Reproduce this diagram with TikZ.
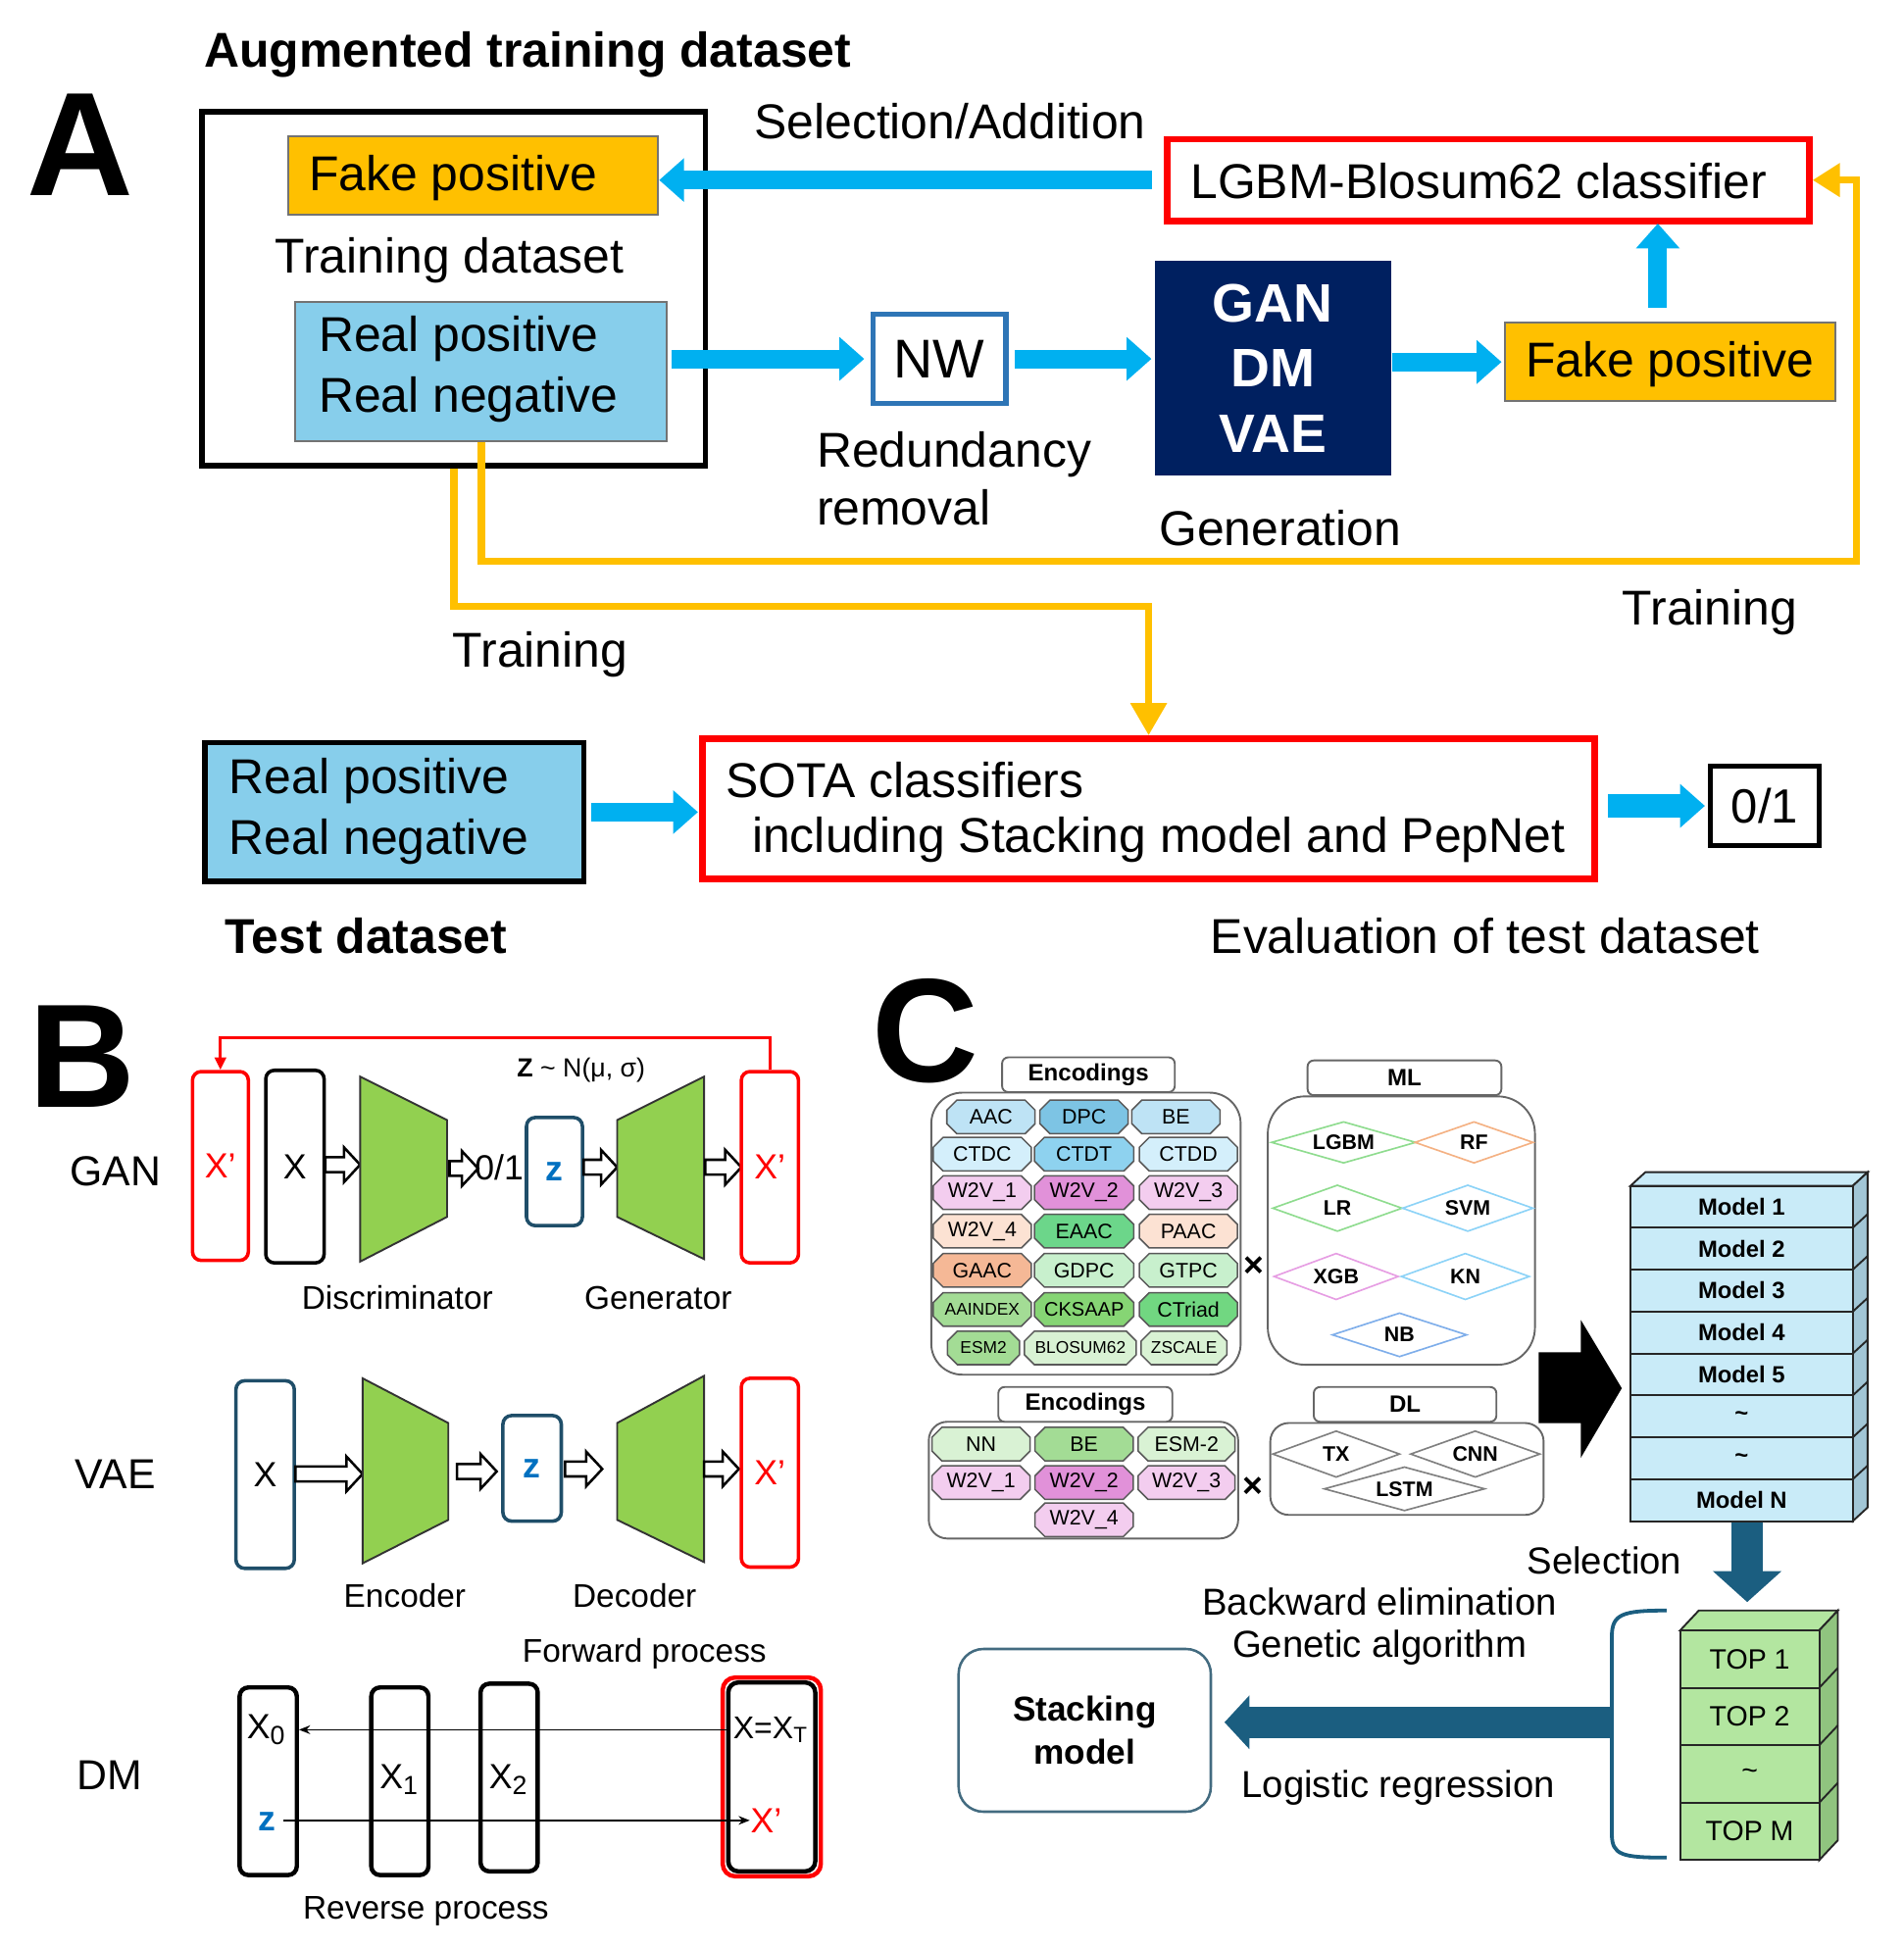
\documentclass[tikz,border=0pt]{standalone}
\usepackage{fontspec}
\setmainfont{Liberation Sans}
\usetikzlibrary{arrows.meta,shapes.misc,shapes.geometric,calc}
\definecolor{cyanA}{HTML}{00B0F0}
\definecolor{orA}{HTML}{FFC000}
\definecolor{lbA}{HTML}{87CEEB}
\definecolor{navyA}{HTML}{002060}
\definecolor{nwblue}{HTML}{2E75B6}
\definecolor{grnT}{HTML}{92D050}
\definecolor{tealB}{HTML}{1F4E69}
\definecolor{zblue}{HTML}{0070C0}
\definecolor{tealC}{HTML}{1B5E80}
\definecolor{mcol}{HTML}{C9EBF8}
\definecolor{mside}{HTML}{A2C6D6}
\definecolor{tcol}{HTML}{B3E6A0}
\definecolor{tside}{HTML}{90C47F}
\definecolor{cA}{HTML}{BEE3F5}
\definecolor{cB}{HTML}{7DC4E4}
\definecolor{cC}{HTML}{D4EFFB}
\definecolor{cD}{HTML}{8ED2EF}
\definecolor{cE}{HTML}{F3CDEF}
\definecolor{cF}{HTML}{E191D9}
\definecolor{cG}{HTML}{FCE2D3}
\definecolor{cH}{HTML}{6CD68A}
\definecolor{cI}{HTML}{F5B896}
\definecolor{cJ}{HTML}{C8F0CD}
\definecolor{cK}{HTML}{A3DC95}
\definecolor{cL}{HTML}{86D574}
\definecolor{cM}{HTML}{71D781}
\definecolor{cN}{HTML}{D9F2D4}
\definecolor{dG}{HTML}{8FDC8F}
\definecolor{dO}{HTML}{F4B183}
\definecolor{dB}{HTML}{8DD3F7}
\definecolor{dP}{HTML}{E69EE3}
\definecolor{dN}{HTML}{7FAEEA}
\newcommand\fsz[2]{\fontsize{#1pt}{#2pt}\selectfont}
\newcommand\harr[3]{\draw[harrowst] (#1,#3-6) -- (#2-13,#3-6) -- (#2-13,#3-14) -- (#2,#3) -- (#2-13,#3+14) -- (#2-13,#3+6) -- (#1,#3+6) -- cycle;}
\newcommand\dmd[6]{\draw[#5, line width=0.013cm] (#1-#3/2,#2) -- (#1,#2-#4/2) -- (#1+#3/2,#2) -- (#1,#2+#4/2) -- cycle;
  \node[inner sep=0pt, font=\bfseries\fsz{4.8}{5}] at (#1,#2) {#6};}
\begin{document}
\begin{tikzpicture}[x=0.01cm,y=-0.01cm,
  T/.style={inner sep=0pt, font=\fsz{11.2}{13.9}, align=left},
  TB/.style={inner sep=0pt, font=\bfseries\fsz{11.2}{13.9}},
  big/.style={inner sep=0pt, font=\bfseries\fsz{33.8}{40}},
  blab/.style={inner sep=0pt, font=\fsz{9.6}{11}},
  bcap/.style={inner sep=0pt, font=\fsz{7.5}{9}},
  blet/.style={inner sep=0pt, font=\fsz{8}{9}},
  ctxt/.style={inner sep=0pt, font=\fsz{8.6}{10}},
  boxst/.style={rectangle, inner sep=0pt},
  cyarr/.style={line width=0.15cm, cyanA, -{Triangle[length=0.2cm,width=0.34cm]}},
  yline/.style={line width=0.06cm, orA},
  harrowst/.style={draw=black, line width=0.02cm, fill=white},
  trap/.style={draw=black!80, line width=0.015cm, fill=grnT},
  rbox/.style={rectangle, rounded corners=0.07cm, inner sep=0pt, line width=0.028cm},
  cellst/.style={chamfered rectangle, chamfered rectangle xsep=0.04cm, chamfered rectangle ysep=0.04cm, draw=gray!70!black, line width=0.012cm, minimum height=0.27cm, inner sep=0pt, font=\fsz{4.8}{5}},
  smallc/.style={font=\fsz{3.9}{4}},
  hdr/.style={rectangle, rounded corners=0.05cm, draw=gray!80!black, line width=0.015cm, fill=white, minimum height=0.28cm, inner sep=0pt, font=\bfseries\fsz{5.4}{6}},
  cont/.style={rectangle, draw=gray!80!black, line width=0.015cm, inner sep=0pt},
  mrow/.style={rectangle, draw=black!85, line width=0.015cm, fill=mcol, minimum width=1.79cm, minimum height=0.3375cm, inner sep=0pt, font=\bfseries\fsz{5.35}{6}},
  trow/.style={rectangle, draw=black!85, line width=0.015cm, fill=tcol, minimum width=1.12cm, minimum height=0.4625cm, inner sep=0pt, font=\fsz{6.4}{7}},
  dmarr/.style={black, line width=0.013cm, -{Stealth[length=0.09cm,width=0.07cm]}}
]
\useasboundingbox (0,0) rectangle (1533,1568);

% ================= Part A =================
\node[big] (labA) at (65,117) {A};
\node[TB] (augt) at (425,44) {Augmented training dataset};
\node[boxst, draw=black, line width=0.045cm, minimum width=4.05cm, minimum height=2.85cm] (outer) at (365.5,232.5) {};
\node[boxst, draw=black!55, line width=0.015cm, fill=orA, minimum width=2.98cm, minimum height=0.63cm] (fp1) at (381,141.5) {};
\node[T, anchor=west] (fp1t) at (248,143) {Fake positive};
\node[T] (trd) at (362,210) {Training dataset};
\node[boxst, draw=black!55, line width=0.015cm, fill=lbA, minimum width=2.99cm, minimum height=1.12cm] (rp1) at (387.5,299) {};
\node[T, anchor=west] (rp1t) at (256,297.5) {Real positive\\Real negative};

\node[boxst, draw=nwblue, line width=0.04cm, fill=white, minimum width=1.07cm, minimum height=0.72cm, font=\fsz{12.5}{14}] (nw) at (756.5,289) {NW};
\node[inner sep=0pt, font=\fsz{11.2}{13.4}, align=left, anchor=west] (red) at (657,385.5) {Redundancy\\removal};

\node[boxst, fill=navyA, text=white, minimum width=1.9cm, minimum height=1.73cm, font=\bfseries\fsz{12.4}{14.9}, align=center] (gen) at (1025,296.5) {GAN\\DM\\VAE};
\node[T] (gent) at (1031,425) {Generation};

\node[boxst, draw=black!55, line width=0.015cm, fill=orA, minimum width=2.66cm, minimum height=0.63cm] (fp2) at (1345,291.5) {};
\node[T, anchor=west] (fp2t) at (1228,293) {Fake positive};

\node[boxst, draw=red, line width=0.05cm, fill=white, minimum width=5.17cm, minimum height=0.66cm] (lgbm) at (1198.5,145) {};
\node[T, anchor=west] (lgbmt) at (958,146) {LGBM-Blosum62 classifier};
\node[T] (seladd) at (765,98) {Selection/Addition};

% cyan arrows
\draw[cyarr, shorten <=0.1cm] (lgbm.west) -- (fp1.east |- lgbm.west);
\draw[cyarr, shorten <=0.03cm, shorten >=0.05cm] (rp1.east |- nw.west) -- (nw.west);
\draw[cyarr, shorten <=0.05cm, shorten >=0.02cm] (nw.east) -- (nw.east -| gen.west);
\draw[cyarr, shorten >=0.02cm] (gen.east |- fp2.west) -- (fp2.west);
\draw[cyarr, shorten <=0.12cm, shorten >=0.02cm] (1335,260) -- (1335,178);

% test
\node[boxst, draw=black, line width=0.045cm, fill=lbA, minimum width=3.05cm, minimum height=1.12cm] (test) at (317.5,654) {};
\node[T, anchor=west] (testt) at (184,653.5) {Real positive\\Real negative};
\node[boxst, draw=red, line width=0.055cm, fill=white, minimum width=7.18cm, minimum height=1.13cm] (sota) at (925,651.5) {};
\node[T, anchor=west] (sota1) at (584,628) {SOTA classifiers};
\node[T, anchor=west] (sota2) at (605,676) {including Stacking model and PepNet};
\node[boxst, draw=black, line width=0.04cm, fill=white, minimum width=0.88cm, minimum height=0.64cm, font=\fsz{11}{13}] (out01) at (1421,649) {0/1};
\draw[cyarr, shorten <=0.04cm, shorten >=0.01cm] (test.east) -- (test.east -| sota.west);
\draw[cyarr, line width=0.19cm, shorten <=0.08cm, shorten >=0.02cm] (sota.east |- out01.west) -- (out01.west);
\node[TB] (testds) at (295,754) {Test dataset};
\node[T] (evalt) at (1196,754) {Evaluation of test dataset};

% yellow lines
\draw[yline, -{Triangle[length=0.22cm,width=0.26cm]}] (rp1.south) |- (1495,452) |- (lgbm.east);
\draw[yline, -{Triangle[length=0.26cm,width=0.28cm]}] (outer.south) -- ++(0,111) -| (sota.north);
\node[T] (tr1) at (435,527) {Training};
\node[T] (tr2) at (1377,493) {Training};

% ================= Part B =================
\node[big] (labB) at (66,851) {B};
% GAN
\node[blab] at (93,943) {GAN};
\node[rbox, draw=red, minimum width=0.45cm, minimum height=1.52cm] (xpl) at (177.5,939) {};
\node[blet, text=red] at (xpl) {X'};
\node[rbox, draw=black, minimum width=0.47cm, minimum height=1.55cm] (xg) at (237.5,939.5) {};
\node[blet] at (xg) {X};
\harr{262}{290}{938}
\draw[trap] (290,867) -- (360,902) -- (360,980) -- (290,1016) -- cycle;
\harr{362}{385}{941}
\node[blet] (o1) at (402,940) {0/1};
\node[rbox, draw=tealB, minimum width=0.45cm, minimum height=0.87cm] (zg) at (446.5,943.5) {};
\node[blet, text=zblue, font=\bfseries\fsz{8}{9}] at (zg) {z};
\harr{470}{497}{940}
\draw[trap] (497,902) -- (567,867) -- (567,1014) -- (497,980) -- cycle;
\harr{568}{597}{940}
\node[rbox, draw=red, minimum width=0.46cm, minimum height=1.54cm] (xpr) at (620,940) {};
\node[blet, text=red] at (xpr) {X'};
\draw[red, line width=0.025cm, -{Triangle[length=0.1cm,width=0.09cm]}] (xpr.north) |- (400,836) -| (xpl.north);
\node[inner sep=0pt, font=\fsz{6}{7}] (zdist) at (468,862) {\textbf{Z} \textasciitilde\ N(μ, σ)};
\node[bcap] at (320,1045) {Discriminator};
\node[bcap] at (530,1045) {Generator};
% VAE
\node[blab] at (93,1187) {VAE};
\node[rbox, draw=tealB, minimum width=0.47cm, minimum height=1.51cm] (xv) at (213.5,1187.5) {};
\node[blet] at (xv) {X};
\harr{238}{292}{1187}
\draw[trap] (292,1110) -- (361,1146) -- (361,1224) -- (292,1259) -- cycle;
\harr{368}{400}{1185}
\node[rbox, draw=tealB, minimum width=0.47cm, minimum height=0.85cm] (zv) at (428.5,1182.5) {};
\node[blet, text=zblue, font=\bfseries\fsz{8}{9}] at (zv) {z};
\harr{455}{485}{1183}
\draw[trap] (497,1146) -- (567,1108) -- (567,1258) -- (497,1224) -- cycle;
\harr{567}{595}{1183}
\node[rbox, draw=red, minimum width=0.46cm, minimum height=1.52cm] (xpv) at (620,1186) {};
\node[blet, text=red] at (xpv) {X'};
\node[bcap] at (326,1285) {Encoder};
\node[bcap] at (511,1285) {Decoder};
% DM
\node[blab] at (88,1430) {DM};
\node[bcap] at (519,1332) {Forward process};
\node[bcap] at (343,1539) {Reverse process};
\node[rbox, draw=black, line width=0.035cm, minimum width=0.46cm, minimum height=1.51cm] (x0b) at (216,1434.5) {};
\node[rbox, draw=black, line width=0.035cm, minimum width=0.46cm, minimum height=1.51cm] (x1b) at (322,1434.5) {};
\node[rbox, draw=black, line width=0.035cm, minimum width=0.46cm, minimum height=1.51cm] (x2b) at (410,1431.5) {};
\node[rbox, draw=red, line width=0.035cm, rounded corners=0.1cm, minimum width=0.79cm, minimum height=1.6cm] (xtr) at (621.5,1431) {};
\node[rbox, draw=black, line width=0.035cm, rounded corners=0.08cm, minimum width=0.70cm, minimum height=1.52cm] (xtb) at (621.5,1431) {};
\node[blet] (x0t) at (215,1393) {X\textsubscript{0}};
\node[blet, text=zblue, font=\bfseries\fsz{8}{9}] (zt) at (215,1467) {z};
\node[blet] (x1t) at (322,1433) {X\textsubscript{1}};
\node[blet] (x2t) at (410,1433) {X\textsubscript{2}};
\node[blet, font=\fsz{7.2}{8}] (xtt) at (621,1393) {X=X\textsubscript{T}};
\node[blet, text=red] (xpt) at (617,1466) {X'};
\draw[dmarr] (xtb.west |- xtt) -- (x0b.east |- xtt);
\draw[dmarr] (228,1466) -- (xpt.west);

% ================= Part C =================
\node[big] (labC) at (745,830) {C};
% top encodings
\node[cont, rounded corners=0.25cm, minimum width=2.49cm, minimum height=2.27cm] (enc1) at (874.5,993.5) {};
\node[hdr, minimum width=1.39cm] (enc1h) at (876.5,865.5) {Encodings};
\node[cellst, fill=cA, minimum width=0.71cm] (e11) at (798,899.5) {AAC};
\node[cellst, fill=cB, minimum width=0.71cm] (e12) at (873,899.5) {DPC};
\node[cellst, fill=cA, minimum width=0.71cm] (e13) at (947,899.5) {BE};
\node[cellst, fill=cC, minimum width=0.79cm] (e21) at (791,929.5) {CTDC};
\node[cellst, fill=cD, minimum width=0.80cm] (e22) at (873,929.5) {CTDT};
\node[cellst, fill=cC, minimum width=0.79cm] (e23) at (957,929.5) {CTDD};
\node[cellst, fill=cE, minimum width=0.79cm] (e31) at (791,960.5) {W2V\_1};
\node[cellst, fill=cF, minimum width=0.80cm] (e32) at (873,960.5) {W2V\_2};
\node[cellst, fill=cE, minimum width=0.79cm] (e33) at (957,960.5) {W2V\_3};
\node[cellst, fill=cG, minimum width=0.79cm] (e41) at (791,991.5) {W2V\_4};
\node[cellst, fill=cH, minimum width=0.80cm] (e42) at (873,991.5) {EAAC};
\node[cellst, fill=cG, minimum width=0.79cm] (e43) at (957,991.5) {PAAC};
\node[cellst, fill=cI, minimum width=0.79cm] (e51) at (791,1023) {GAAC};
\node[cellst, fill=cJ, minimum width=0.80cm] (e52) at (873,1023) {GDPC};
\node[cellst, fill=cJ, minimum width=0.79cm] (e53) at (957,1023) {GTPC};
\node[cellst, fill=cK, minimum width=0.79cm, smallc] (e61) at (791,1054.5) {AAINDEX};
\node[cellst, fill=cL, minimum width=0.80cm, font=\fsz{4.5}{5}] (e62) at (873,1054.5) {CKSAAP};
\node[cellst, fill=cM, minimum width=0.79cm] (e63) at (957,1054.5) {CTriad};
\node[cellst, fill=cK, minimum width=0.58cm, smallc] (e71) at (792,1085.5) {ESM2};
\node[cellst, fill=cN, minimum width=0.90cm, smallc] (e72) at (870,1085.5) {BLOSUM62};
\node[cellst, fill=cN, minimum width=0.69cm, smallc] (e73) at (953.5,1085.5) {ZSCALE};
\node[inner sep=0pt, font=\bfseries\fsz{8}{9}] (x1) at (1010,1020) {×};
% ML
\node[cont, rounded corners=0.3cm, minimum width=2.15cm, minimum height=2.16cm] (ml) at (1128.5,991) {};
\node[hdr, minimum width=1.56cm] (mlh) at (1131,868) {ML};
\dmd{1082}{920}{116}{33}{dG}{LGBM}
\dmd{1187}{920}{95}{33}{dO}{RF}
\dmd{1077}{973}{104}{37}{dG}{LR}
\dmd{1182}{973}{105}{37}{dB}{SVM}
\dmd{1076}{1028}{100}{37}{dP}{XGB}
\dmd{1180}{1028}{103}{37}{dB}{KN}
\dmd{1127}{1075}{108}{35}{dN}{NB}
% bottom encodings
\node[cont, rounded corners=0.15cm, minimum width=2.49cm, minimum height=0.94cm] (enc2) at (872.5,1192) {};
\node[hdr, minimum width=1.40cm] (enc2h) at (874,1131) {Encodings};
\node[cellst, fill=cN, minimum width=0.79cm] (f11) at (790,1163) {NN};
\node[cellst, fill=cK, minimum width=0.79cm] (f12) at (873,1163) {BE};
\node[cellst, fill=cN, minimum width=0.78cm] (f13) at (955.5,1163) {ESM-2};
\node[cellst, fill=cE, minimum width=0.79cm] (f21) at (790,1194) {W2V\_1};
\node[cellst, fill=cF, minimum width=0.79cm] (f22) at (873,1194) {W2V\_2};
\node[cellst, fill=cE, minimum width=0.78cm] (f23) at (955.5,1194) {W2V\_3};
\node[cellst, fill=cE, minimum width=0.79cm] (f32) at (873,1224) {W2V\_4};
\node[inner sep=0pt, font=\bfseries\fsz{8}{9}] (x2) at (1009,1198) {×};
% DL
\node[cont, rounded corners=0.15cm, minimum width=2.2cm, minimum height=0.74cm] (dl) at (1133,1183) {};
\node[hdr, minimum width=1.47cm] (dlh) at (1131.5,1131) {DL};
\dmd{1076}{1171}{102}{37}{gray}{TX}
\dmd{1188}{1171}{104}{37}{gray}{CNN}
\dmd{1131}{1199}{129}{35}{gray}{LSTM}
% big black arrow
\fill[black] (1239,1089) -- (1273,1089) -- (1273,1063) -- (1306,1118) -- (1273,1174) -- (1273,1146) -- (1239,1146) -- cycle;
% model stack
\filldraw[fill=mcol, draw=black!85, line width=0.015cm] (1313,955) -- (1325,944) -- (1504,944) -- (1492,955) -- cycle;
\filldraw[fill=mside, draw=black!85, line width=0.015cm] (1492,955) -- (1504,944) -- (1504,1214) -- (1492,1225) -- cycle;
\foreach \t [count=\i] in {Model 1,Model 2,Model 3,Model 4,Model 5,\textasciitilde,\textasciitilde,Model N}
  \node[mrow] (m\i) at (1402.5,{955+33.75*(\i-0.5)}) {\t};
\foreach \i in {1,...,7} \draw[black!85, line width=0.015cm] (1492,{955+33.75*\i}) -- ++(12,-11);
% TOP stack
\filldraw[fill=tcol, draw=black!85, line width=0.015cm] (1353,1313) -- (1368,1297) -- (1480,1297) -- (1465,1313) -- cycle;
\filldraw[fill=tside, draw=black!85, line width=0.015cm] (1465,1313) -- (1480,1297) -- (1480,1482) -- (1465,1498) -- cycle;
\foreach \t [count=\i] in {TOP 1,TOP 2,\textasciitilde,TOP M}
  \node[trow] (t\i) at (1409,{1313+46.25*(\i-0.5)}) {\t};
\foreach \i in {1,...,3} \draw[black!85, line width=0.015cm] (1465,{1313+46.25*\i}) -- ++(15,-16);
% selection arrow
\draw[tealC, line width=0.25cm, -{Triangle[length=0.25cm,width=0.54cm]}, shorten >=0.22cm] (m8.south -| 1407,0) -- (t1.north -| 1407,0);
\node[ctxt] (sel) at (1292,1257) {Selection};
% bracket
\draw[tealC, line width=0.03cm] (1342,1297) .. controls (1306,1297) and (1298,1300) .. (1298,1318) -- (1298,1477) .. controls (1298,1494) and (1306,1496) .. (1342,1496);
\coordinate (brk) at (1298,1387);
% stacking model
\node[rectangle, rounded corners=0.2cm, draw=tealC!60!gray, line width=0.02cm, minimum width=2.03cm, minimum height=1.31cm, align=center, font=\bfseries\fsz{7.9}{9.7}] (stack) at (873.5,1393.5) {Stacking\\model};
\draw[tealC, line width=0.25cm, -{Triangle[length=0.2cm,width=0.42cm]}, shorten >=0.1cm] (brk) -- (stack.east |- brk);
\node[ctxt] (bwe) at (1111,1290) {Backward elimination};
\node[ctxt] (gea) at (1111,1327) {Genetic algorithm};
\node[ctxt] (lgr) at (1126,1440) {Logistic regression};
\end{tikzpicture}
\end{document}
